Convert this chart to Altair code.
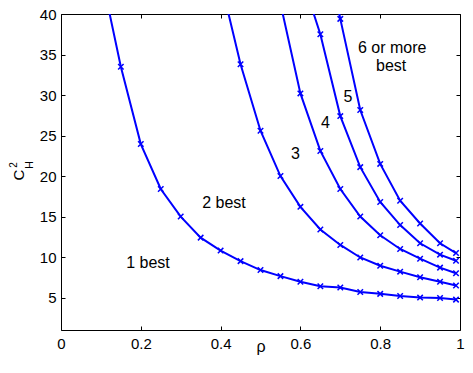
import altair as alt
import pandas as pd

# ---- data ----
rho_1 = [0.10, 0.15, 0.20, 0.25, 0.30, 0.35, 0.40, 0.45, 0.50, 0.55, 0.60,
         0.65, 0.70, 0.75, 0.80, 0.85, 0.90, 0.95, 0.99]
ch2_1 = [45.1, 33.5, 23.95, 18.4, 15.0, 12.4, 10.8, 9.5, 8.4, 7.65, 6.95,
         6.4, 6.25, 5.7, 5.46, 5.2, 5.0, 4.94, 4.75]

rho_2 = [0.40, 0.45, 0.50, 0.55, 0.60, 0.65, 0.70, 0.75, 0.80, 0.85, 0.90, 0.95, 0.99]
ch2_2 = [44.1, 33.8, 25.6, 20.0, 16.2, 13.4, 11.5, 9.95, 8.93, 8.2, 7.5, 6.95, 6.5]

rho_3 = [0.55, 0.60, 0.65, 0.70, 0.75, 0.80, 0.85, 0.90, 0.95, 0.99]
ch2_3 = [41.3, 30.2, 23.1, 18.4, 15.0, 12.7, 11.0, 9.8, 8.7, 8.0]

rho_4 = [0.60, 0.65, 0.70, 0.75, 0.80, 0.85, 0.90, 0.95, 0.99]
ch2_4 = [45.1, 37.5, 27.4, 21.1, 16.8, 13.95, 11.7, 10.3, 9.54]

rho_5 = [0.65, 0.70, 0.75, 0.80, 0.85, 0.90, 0.95, 0.99]
ch2_5 = [52.0, 39.4, 28.15, 21.5, 16.95, 14.15, 11.7, 10.5]

note_text = ["1 best", "2 best", "3", "4", "5", "6 or more", "best"]
note_rho = [0.218, 0.4085, 0.5875, 0.663, 0.719, 0.83, 0.8275]
note_ch2 = [9.3, 16.7, 22.7, 26.6, 29.75, 35.85, 33.55]

x_ticks = [0, 0.2, 0.4, 0.6, 0.8, 1]
y_ticks = [5, 10, 15, 20, 25, 30, 35, 40]

# ---- tables ----
rows = []
for k, (rs, cs) in enumerate([(rho_1, ch2_1), (rho_2, ch2_2), (rho_3, ch2_3),
                               (rho_4, ch2_4), (rho_5, ch2_5)]):
    for r, c in zip(rs, cs):
        rows.append({"curve": k + 1, "rho": r, "ch2": c})
df = pd.DataFrame(rows)
notes = pd.DataFrame({"t": note_text, "rho": note_rho, "ch2": note_ch2})
one = pd.DataFrame({"a": [0]})

FONT = "Liberation Sans"
BLUE = "#0000ff"
xscale = alt.Scale(domain=[0, 1], nice=False, zero=False)
yscale = alt.Scale(domain=[1, 40], nice=False, zero=False)

common_axis = dict(grid=False, domain=False, tickSize=4, offset=-4,
                   tickColor="black", tickWidth=1, labelFont=FONT,
                   labelFontSize=15, labelColor="black", title=None,
                   labelOverlap=False, labelFlush=False, labelBound=False)

lines = alt.Chart(df).mark_line(color=BLUE, strokeWidth=2, clip=True).encode(
    x=alt.X("rho:Q", scale=xscale,
            axis=alt.Axis(orient="bottom", values=x_ticks, format="~g",
                          labelPadding=6, **common_axis)),
    y=alt.Y("ch2:Q", scale=yscale,
            axis=alt.Axis(orient="left", values=y_ticks, format="d",
                          labelPadding=5, **common_axis)),
    detail="curve:N",
)

marks = alt.Chart(df).mark_point(shape="M-1,-1L1,1M-1,1L1,-1", filled=False,
                                 size=30, strokeWidth=1.5, color=BLUE,
                                 opacity=1, clip=True).encode(
    x=alt.X("rho:Q", scale=xscale,
            axis=alt.Axis(orient="top", values=x_ticks, labels=False, **common_axis)),
    y=alt.Y("ch2:Q", scale=yscale,
            axis=alt.Axis(orient="right", values=y_ticks, labels=False, **common_axis)),
)

txt = alt.Chart(notes).mark_text(font=FONT, fontSize=16, color="black",
                                 align="center", baseline="middle").encode(
    x=alt.X("rho:Q", scale=xscale, axis=None),
    y=alt.Y("ch2:Q", scale=yscale, axis=None),
    text="t:N",
)

xtitle = alt.Chart(one).mark_text(text="ρ", font=FONT, fontSize=16, color="black",
                                  align="center", baseline="alphabetic").encode(
    x=alt.value(200), y=alt.value(338))

ytitle_c = alt.Chart(one).mark_text(text="C", font=FONT, fontSize=15, color="black",
                                    angle=270, align="center", baseline="middle").encode(
    x=alt.value(-42), y=alt.value(161))
ytitle_sup = alt.Chart(one).mark_text(text="2", font=FONT, fontSize=10, color="black",
                                      angle=270, align="center", baseline="middle").encode(
    x=alt.value(-47.5), y=alt.value(151))
ytitle_sub = alt.Chart(one).mark_text(text="H", font=FONT, fontSize=11, color="black",
                                      angle=270, align="center", baseline="middle").encode(
    x=alt.value(-31), y=alt.value(151))

chart = alt.layer(lines, marks, txt, xtitle, ytitle_c, ytitle_sup, ytitle_sub).resolve_axis(
    x="independent", y="independent"
).properties(
    width=399, height=316,
    autosize=alt.AutoSizeParams(type="none"),
    padding={"left": 53, "top": 6, "right": 5, "bottom": 27},
    background="white",
).configure_view(stroke="black", strokeWidth=1)

chart.save("out.html", embed_options={"renderer": "svg", "actions": False})
